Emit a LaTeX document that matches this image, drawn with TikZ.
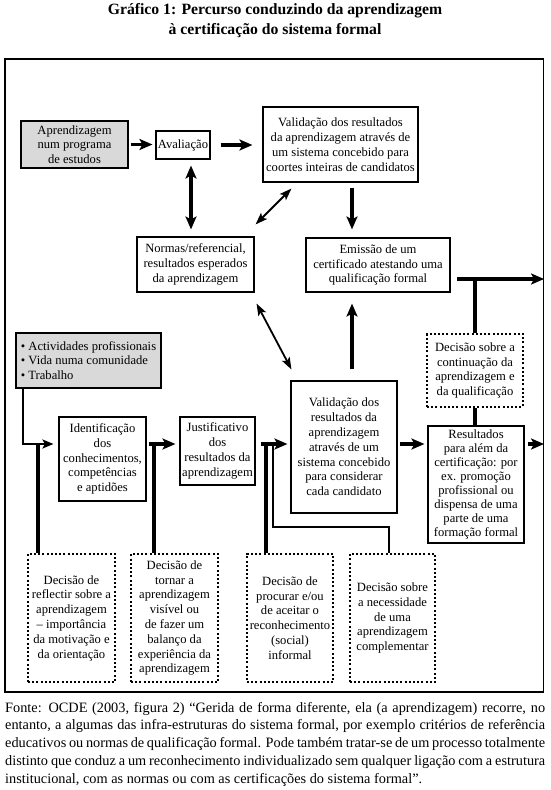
\documentclass[tikz,border=0pt]{standalone}
\usepackage{fontspec}
\setmainfont{Liberation Serif}
\usetikzlibrary{arrows.meta,calc}
\definecolor{boxgray}{RGB}{217,217,217}
\newcommand\boxfont{\fontsize{12.6}{14.8}\selectfont}
\newcommand\capfont{\fontsize{14.3}{17.7}\selectfont}
\begin{document}
\begin{tikzpicture}[x=1pt,y=-1pt,
  bx/.style 2 args={draw, line width=1.1pt, inner sep=0pt, minimum width=#1pt, minimum height=#2pt, align=center, font=\boxfont},
  gbx/.style 2 args={bx={#1}{#2}, fill=boxgray},
  dbx/.style 2 args={bx={#1}{#2}, line width=2pt, dash pattern=on 2pt off 2.2pt},
  tarr/.style={line width=3.6pt, -{Stealth[length=13pt,width=11pt,inset=3pt]}},
  tdbl/.style={line width=3.6pt, {Stealth[length=13pt,width=11pt,inset=3pt]}-{Stealth[length=13pt,width=11pt,inset=3pt]}},
  darr/.style={line width=1.8pt, {Stealth[length=12pt,width=8.5pt,inset=2.5pt]}-{Stealth[length=12pt,width=8.5pt,inset=2.5pt]}},
  garr/.style={line width=2pt, line join=miter, -{Stealth[length=11pt,width=9pt,inset=2.5pt]}},
  stem/.style={line width=4pt},
  lpath/.style={line width=2.8pt, line join=miter}]
\useasboundingbox (0,0) rectangle (550,790);
\node[font=\bfseries\fontsize{15.7}{20}\selectfont, align=center, anchor=north, inner sep=0pt] (title) at (275,3)
  {Gráfico 1: Percurso conduzindo da aprendizagem\\à certificação do sistema formal};
\node[draw, line width=1.1pt, minimum width=538.5pt, minimum height=633pt, inner sep=0pt] (frame) at (274.25,375.5) {};

\node[gbx={107}{47}] (prog) at (74.5,144.5) {Aprendizagem\\num programa\\de estudos};
\node[bx={54}{28}] (aval) at (183,145) {Avaliação};
\node[bx={155}{75}] (valA) at (340.5,144.5) {Validação dos resultados\\da aprendizagem através de\\um sistema concebido para\\coortes inteiras de candidatos};
\node[bx={117}{55}] (norm) at (195.5,264.5) {Normas/referencial,\\resultados esperados\\da aprendizagem};
\node[bx={144}{54}] (emis) at (378,265) {Emissão de um\\certificado atestando uma\\qualificação formal};
\node[dbx={96}{73}] (dcont) at (475,370.5) {Decisão sobre a\\continuação da\\aprendizagem e\\da qualificação};
\node[bx={96}{117}, font=\fontsize{12.6}{14.1}\selectfont] (res) at (476,484.5) {Resultados\\para além da\\certificação: por\\ex. promoção\\profissional ou\\dispensa de uma\\parte de uma\\formação formal};
\node[bx={106}{132}] (valB) at (344,447) {Validação dos\\resultados da\\aprendizagem\\através de um\\sistema concebido\\para considerar\\cada candidato};
\node[gbx={145}{55}, align=left] (ativ) at (88.5,360.5) {• Actividades profissionais\\• Vida numa comunidade\\• Trabalho};
\node[bx={87}{84}] (ident) at (102.5,459) {Identificação\\dos\\conhecimentos,\\competências\\e aptidões};
\node[bx={75}{68}] (just) at (217.5,451) {Justificativo\\dos\\resultados da\\aprendizagem};
\node[dbx={87}{128}] (d1) at (71.5,618) {Decisão de\\reflectir sobre a\\aprendizagem\\– importância\\da motivação e\\da orientação};
\node[dbx={87}{128}] (d2) at (174.5,618) {Decisão de\\tornar a\\aprendizagem\\visível ou\\de fazer um\\balanço da\\experiência da\\aprendizagem};
\node[dbx={86}{128}] (d3) at (290,618) {Decisão de\\procurar e/ou\\de aceitar o\\reconhecimento\\(social)\\informal};
\node[dbx={85}{128}] (d4) at (392.5,618) {Decisão sobre\\a necessidade\\de uma\\aprendizagem\\complementar};

\node[anchor=north west, inner sep=0pt, text width=540pt, align=justify, font=\capfont] (cap) at (5,702)
  {Fonte: OCDE (2003, figura 2) “Gerida de forma diferente, ela (a aprendizagem) recorre, no\linebreak
  entanto, a algumas das infra-estruturas do sistema formal, por exemplo critérios de referência\linebreak
  educativos ou normas de qualificação formal. Pode também tratar-se de um processo totalmente\linebreak
  distinto que conduz a um reconhecimento individualizado sem qualquer ligação com a estrutura\linebreak
  institucional, com as normas ou com as certificações do sistema formal”.};

% helper coordinates
\coordinate (flow) at (0,444);
\coordinate (e1) at (457,279);
\path ($(valA.south)+(11.5,0)$) coordinate (vA);
\path ($(aval.south)+(8,0)$) coordinate (vN);
\path ($(valB.north)+(8,0)$) coordinate (vB);
\path ($(ativ.south west)+(8,0)$) coordinate (gA);
\path ($(d1.north west)+(11,0)$) coordinate (s1);
\path ($(d2.north west)+(24,0)$) coordinate (s2);
\path ($(d3.north west)+(20,0)$) coordinate (s3);
\path ($(d3.north west)+(27,0)$) coordinate (s3b);
\path ($(d4.north west)+(40,0)$) coordinate (s4);
\path ($(d4.north west)+(40,-26)$) coordinate (s4k);

\draw[tarr, shorten <=2pt, shorten >=3pt] (prog.east) -- (prog.east -| aval.west);
\draw[tarr, shorten <=10pt, shorten >=10pt] (aval.east) -- (aval.east -| valA.west);
\draw[tarr, shorten <=5pt, shorten >=8pt] (vA) -- (vA |- emis.north);
\draw[tdbl, shorten <=6pt, shorten >=7pt] (vN) -- (vN |- norm.north);
\draw[darr] ($(norm.north east)+(1,-12)$) -- ($(valA.south west)+(29,6)$);
\draw[darr] ($(norm.south east)+(2,11)$) -- ($(valB.north west)+(1,-11)$);
\draw[tarr, shorten <=11pt, shorten >=11pt] (vB) -- (vB |- emis.south);
\draw[tarr] (e1) -- (e1 -| frame.east);
\draw[stem] (e1 -| dcont.north) -- (dcont.north);
\draw[stem] (dcont.south) -- (dcont.south |- res.north);
\draw[tarr, shorten <=2pt, shorten >=3pt] (valB.east |- flow) -- (res.west |- flow);
\draw[tarr, shorten <=3pt] (res.east |- flow) -- (frame.east |- flow);
\draw[garr, shorten >=5pt] (gA) |- (ident.west |- flow);
\draw[stem] (s1 |- flow) -- (s1);
\draw[tarr, shorten <=2pt, shorten >=4pt] (ident.east |- flow) -- (just.west |- flow);
\draw[stem] (s2 |- flow) -- (s2);
\draw[tarr, shorten <=5pt, shorten >=3pt] (just.east |- flow) -- (valB.west |- flow);
\draw[stem] (s3 |- flow) -- (s3);
\draw[lpath] (s3b |- flow) |- (s4k) -- (s4);
\end{tikzpicture}
\end{document}
